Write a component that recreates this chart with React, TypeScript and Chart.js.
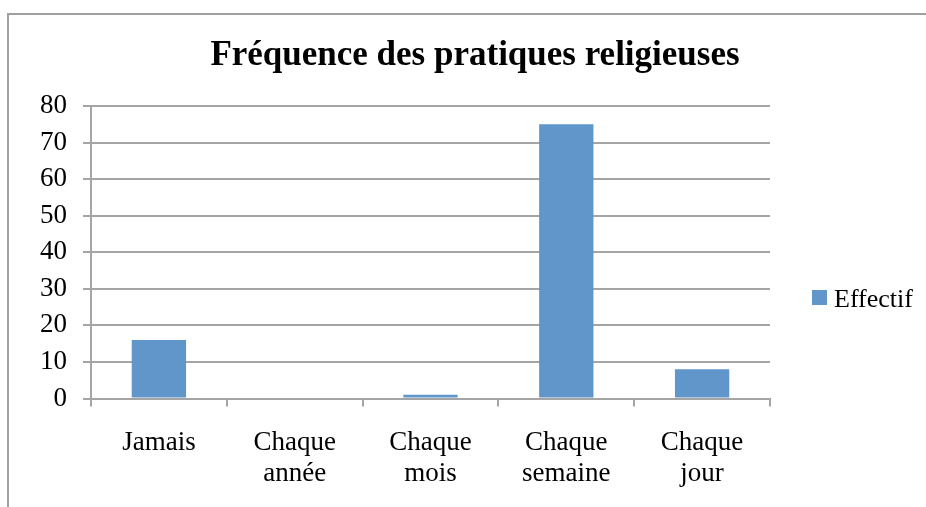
import React, { useEffect, useRef } from "react";
import { Chart, registerables } from "chart.js";

Chart.register(...registerables);

// ---- data ----
const categories: (string | string[])[] = [
  "Jamais",
  ["Chaque", "année"],
  ["Chaque", "mois"],
  ["Chaque", "semaine"],
  ["Chaque", "jour"],
];
const effectif: number[] = [16, 0, 1, 75, 8];
const seriesName = "Effectif";
const chartTitle = "Fréquence des pratiques religieuses";
const yMin = 0;
const yMax = 80;
const yStep = 10;

// ---- style ----
const W = 950;
const H = 507;
const BAR = "#6196cb";
const GRID = "#a5a5a5";
const FRAME = "#a0a0a0";
const SERIF = "'Liberation Serif', 'Times New Roman', serif";

export default function App() {
  const ref = useRef<HTMLCanvasElement>(null);

  useEffect(() => {
    if (!ref.current) return;

    const framePlugin = {
      id: "frame",
      beforeDraw(chart: any) {
        const ctx = chart.ctx;
        ctx.save();
        ctx.fillStyle = "#ffffff";
        ctx.fillRect(0, 0, W, H);
        ctx.fillStyle = FRAME;
        ctx.fillRect(7, 13, 2, H);
        ctx.fillRect(7, 13, W, 2);
        ctx.restore();
      },
    };

    const sideLegend = {
      id: "sideLegend",
      afterDraw(chart: any) {
        const ctx = chart.ctx;
        const ds = chart.data.datasets[0];
        const x0 = chart.chartArea.right + 42;
        const yTop = 290;
        ctx.save();
        ctx.fillStyle = ds.backgroundColor;
        ctx.fillRect(x0, yTop, 15, 15);
        ctx.fillStyle = "#000";
        ctx.font = `26px ${SERIF}`;
        ctx.textBaseline = "alphabetic";
        ctx.textAlign = "left";
        ctx.fillText(ds.label, x0 + 22, yTop + 17);
        ctx.restore();
      },
    };

    const chart = new Chart(ref.current, {
      type: "bar",
      data: {
        labels: categories,
        datasets: [
          {
            label: seriesName,
            data: effectif,
            backgroundColor: BAR,
            borderWidth: 0,
            barPercentage: 0.4,
            categoryPercentage: 1,
          },
        ],
      },
      options: {
        animation: false,
        responsive: false,
        devicePixelRatio: 1,
        layout: { padding: 0 },
        plugins: {
          legend: { display: false },
          tooltip: { enabled: false },
          title: {
            display: true,
            text: chartTitle,
            color: "#000",
            font: { family: SERIF, size: 35, weight: "bold", lineHeight: 1.2 },
            padding: { top: 35, bottom: 29 },
          },
        },
        scales: {
          x: {
            grid: {
              display: true,
              drawOnChartArea: false,
              drawTicks: true,
              tickLength: 8,
              color: GRID,
              lineWidth: 2,
              offset: true,
            },
            border: { display: true, color: GRID, width: 2 },
            ticks: {
              color: "#000",
              padding: 21,
              maxRotation: 0,
              autoSkip: false,
              font: { family: SERIF, size: 27, lineHeight: 1.15 },
            },
            afterFit: (s: any) => {
              s.height = H - 398.5;
            },
          },
          y: {
            min: yMin,
            max: yMax,
            grid: {
              color: GRID,
              lineWidth: 2,
              drawTicks: true,
              tickLength: 8,
            },
            border: { display: true, color: GRID, width: 2 },
            ticks: {
              stepSize: yStep,
              color: "#000",
              padding: 16,
              font: { family: SERIF, size: 27 },
            },
            afterFit: (s: any) => {
              s.width = 91;
            },
          },
          yR: {
            type: "linear",
            position: "right",
            display: true,
            grid: { display: false, drawTicks: false },
            border: { display: false },
            ticks: { display: false },
            afterFit: (s: any) => {
              s.width = W - 770;
            },
          },
        },
      },
      plugins: [framePlugin, sideLegend],
    });

    return () => chart.destroy();
  }, []);

  return (
    <div
      style={{
        position: "fixed",
        left: 0,
        top: 0,
        width: 926,
        height: 507,
        overflow: "hidden",
        background: "#fff",
      }}
    >
      <canvas
        ref={ref}
        width={W}
        height={H}
        style={{ display: "block", width: W, height: H }}
      />
    </div>
  );
}
